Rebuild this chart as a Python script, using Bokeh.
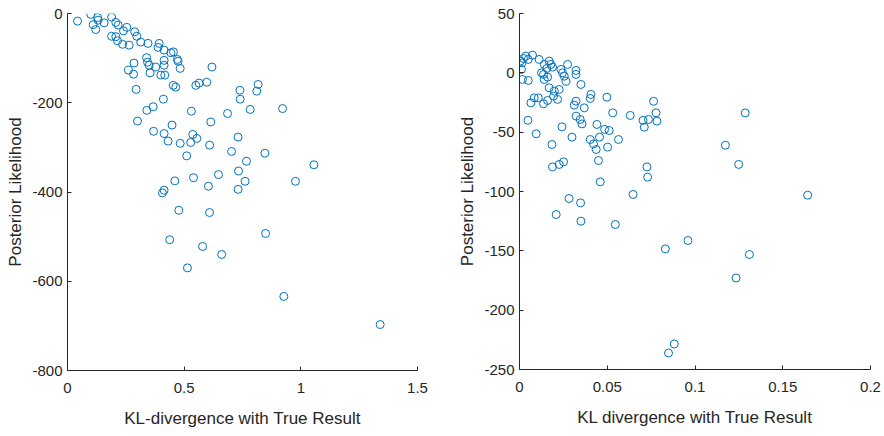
from bokeh.plotting import figure
from bokeh.layouts import row
from bokeh.models import FixedTicker
from bokeh.embed import file_html
from bokeh.resources import INLINE

# ---- Left panel data (KL-divergence vs posterior likelihood) ----
left_kl = [0.043, 0.100, 0.110, 0.121, 0.129, 0.131, 0.157, 0.189, 0.207, 0.217,
           0.240, 0.254, 0.189, 0.207, 0.214, 0.236, 0.264, 0.288, 0.297, 0.314,
           0.345, 0.393, 0.388, 0.414, 0.443, 0.454, 0.471, 0.474, 0.483, 0.619,
           0.339, 0.343, 0.350, 0.378, 0.414, 0.414, 0.285, 0.261, 0.283, 0.354,
           0.400, 0.417, 0.294, 0.453, 0.464, 0.550, 0.564, 0.597, 0.411, 0.367,
           0.340, 0.300, 0.531, 0.614, 0.686, 0.739, 0.740, 0.811, 0.817, 0.783,
           0.369, 0.414, 0.431, 0.448, 0.483, 0.528, 0.537, 0.554, 0.609, 0.731,
           0.703, 0.511, 0.767, 0.733, 0.761, 0.731, 0.460, 0.540, 0.647, 0.604,
           0.414, 0.407, 0.477, 0.609, 0.438, 0.579, 0.661, 0.514, 0.922, 0.846,
           1.056, 0.977, 0.849, 0.927, 1.340]
left_post = [-17, -2, -25, -36, -9, -15, -21, -8, -20, -26,
             -39, -31, -51, -52, -61, -69, -71, -41, -51, -64,
             -67, -67, -76, -82, -88, -86, -103, -107, -123, -120,
             -99, -109, -116, -120, -105, -116, -111, -127, -136, -133,
             -138, -138, -170, -161, -165, -161, -156, -154, -192, -209,
             -217, -241, -219, -243, -224, -172, -192, -174, -159, -215,
             -264, -269, -286, -250, -291, -289, -271, -280, -295, -277,
             -309, -319, -331, -353, -376, -394, -375, -368, -361, -387,
             -396, -402, -441, -446, -507, -522, -540, -570, -213, -313,
             -339, -376, -493, -634, -697]

# ---- Right panel data ----
right_kl = [0.0004, 0.0014, 0.0023, 0.0036, 0.0050, 0.0074, 0.0011, 0.0017, 0.0050, 0.0112,
            0.0141, 0.0169, 0.0179, 0.0188, 0.0156, 0.0125, 0.0137, 0.0160, 0.0141, 0.0236,
            0.0245, 0.0255, 0.0265, 0.0274, 0.0322, 0.0322, 0.0350, 0.0169, 0.0198, 0.0226,
            0.0194, 0.0217, 0.0160, 0.0084, 0.0107, 0.0065, 0.0137, 0.0322, 0.0312, 0.0369,
            0.0407, 0.0403, 0.0498, 0.0323, 0.0346, 0.0356, 0.0531, 0.0048, 0.0095, 0.0185,
            0.0242, 0.0299, 0.0403, 0.0422, 0.0437, 0.0456, 0.0441, 0.0485, 0.0511, 0.0502,
            0.0564, 0.0631, 0.0704, 0.0735, 0.0711, 0.0778, 0.0783, 0.0764, 0.0450, 0.0188,
            0.0226, 0.0251, 0.0726, 0.0730, 0.0460, 0.0647, 0.0282, 0.0348, 0.0209, 0.0350,
            0.0546, 0.0960, 0.0831, 0.1173, 0.1249, 0.1642, 0.1310, 0.1234, 0.0882, 0.0849,
            0.1286]
right_post = [9.9, 8.4, 12.1, 14.1, 11.3, 14.9, 2.9, -5.6, -6.4, 11.3,
              7.1, 9.9, 7.1, 4.8, 3.7, 0.0, -1.3, -3.6, -5.6, 2.9,
              0.0, -2.8, -7.0, 7.1, 2.0, -1.3, -9.8, -12.6, -15.4, -14.0,
              -19.6, -22.4, -23.3, -21.1, -21.1, -25.3, -26.1, -23.9, -27.2, -29.5,
              -18.2, -21.6, -20.5, -36.5, -39.3, -43.0, -33.7, -40.0, -51.4, -60.4,
              -45.5, -54.2, -56.2, -59.9, -64.6, -54.2, -43.5, -47.7, -48.6, -62.6,
              -56.2, -35.9, -40.1, -39.3, -45.8, -33.7, -40.7, -24.0, -73.9, -79.3,
              -77.2, -75.0, -79.3, -87.9, -91.9, -102.5, -105.9, -109.6, -119.4, -125.0,
              -127.8, -141.3, -148.4, -61.0, -77.2, -103.1, -153.1, -172.9, -228.5, -236.1,
              -33.8]

left_xticks = [0, 0.5, 1, 1.5]
left_xlabels = ["0", "0.5", "1", "1.5"]
left_yticks = [0, -200, -400, -600, -800]
left_ylabels = ["0", "-200", "-400", "-600", "-800"]
right_xticks = [0, 0.05, 0.1, 0.15, 0.2]
right_xlabels = ["0", "0.05", "0.1", "0.15", "0.2"]
right_yticks = [50, 0, -50, -100, -150, -200, -250]
right_ylabels = ["50", "0", "-50", "-100", "-150", "-200", "-250"]

BLUE = "#0072BD"
AX = "#262626"
FONT = "Liberation Sans"


def style(p, xt, xl, yt, yl, xlabel):
    p.outline_line_color = None
    p.grid.visible = False
    p.xaxis.ticker = FixedTicker(ticks=xt)
    p.yaxis.ticker = FixedTicker(ticks=yt)
    p.xaxis.major_label_overrides = {t: l for t, l in zip(xt, xl)}
    p.yaxis.major_label_overrides = {t: l for t, l in zip(yt, yl)}
    for ax in (p.xaxis[0], p.yaxis[0]):
        ax.axis_line_color = AX
        ax.major_tick_line_color = AX
        ax.major_tick_in = 4
        ax.major_tick_out = 0
        ax.minor_tick_line_color = None
        ax.major_label_text_font = FONT
        ax.major_label_text_font_size = "15px"
        ax.major_label_text_color = AX
        ax.axis_label_text_font = FONT
        ax.axis_label_text_font_size = "17px"
        ax.axis_label_text_font_style = "normal"
        ax.axis_label_text_color = AX
    p.xaxis.major_label_standoff = 12
    p.yaxis.major_label_standoff = 5
    p.xaxis.axis_label = xlabel
    p.yaxis.axis_label = "Posterior Likelihood"
    p.xaxis.axis_label_standoff = 13
    p.yaxis.axis_label_standoff = 4


p1 = figure(frame_width=350, frame_height=357, x_range=(0, 1.5), y_range=(-800, 0),
            min_border_left=67, min_border_right=23, min_border_top=13, min_border_bottom=64,
            output_backend="svg", toolbar_location=None)
p1.scatter(left_kl, left_post, marker="circle", size=8, fill_color=None,
           line_color=BLUE, line_width=1)
style(p1, left_xticks, left_xlabels, left_yticks, left_ylabels, "KL-divergence with True Result")

p2 = figure(frame_width=351, frame_height=356, x_range=(0, 0.2), y_range=(-250, 50),
            min_border_left=79, min_border_right=12, min_border_top=12, min_border_bottom=66,
            output_backend="svg", toolbar_location=None)
p2.scatter(right_kl, right_post, marker="circle", size=8, fill_color=None,
           line_color=BLUE, line_width=1)
style(p2, right_xticks, right_xlabels, right_yticks, right_ylabels, "KL divergence with True Result")

layout = row(p1, p2)
open("out.html", "w").write(file_html(layout, INLINE))
